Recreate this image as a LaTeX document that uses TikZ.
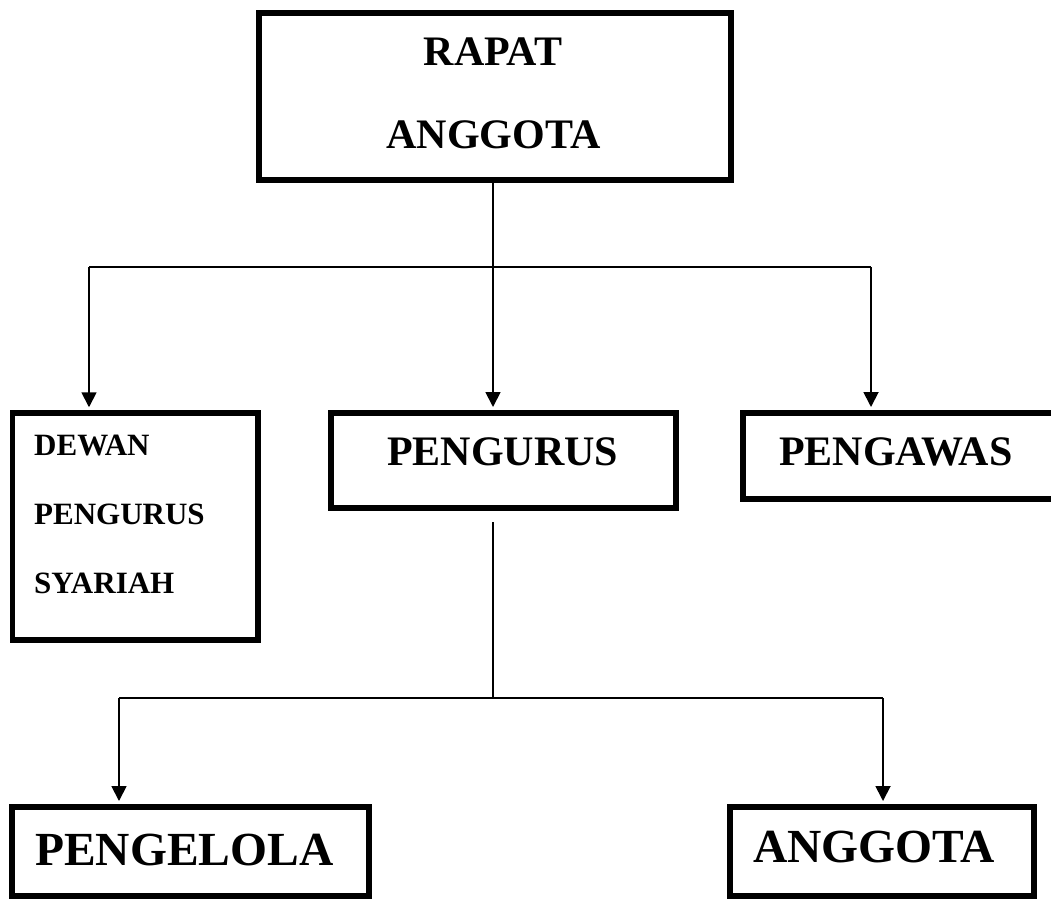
\documentclass[tikz,border=0pt]{standalone}
\usepackage{fontspec}
\setmainfont{Liberation Serif}
\usetikzlibrary{arrows.meta}
\begin{document}
\begin{tikzpicture}[x=1pt,y=-1pt,
  orgbox/.style={draw=black, line width=6pt, rectangle, inner sep=0pt, fill=none},
  lbl/.style={inner sep=0pt, font=\bfseries},
  conn/.style={draw=black, line width=1.8pt},
  arr/.style={conn, -{Triangle[length=15pt,width=15pt]}, shorten >=3pt}
]
\useasboundingbox (0,0) rectangle (1051,900);
\clip (0,0) rectangle (1051,900);
\fill[white] (0,0) rectangle (1051,900);

% boxes
\node[orgbox, minimum width=472pt, minimum height=167pt] (rapat) at (495,96.5) {};
\node[orgbox, line width=5.5pt, minimum width=245.5pt, minimum height=227pt] (dewan) at (135.25,526.5) {};
\node[orgbox, minimum width=345pt, minimum height=95pt] (pengurus) at (503.5,460.5) {};
\node[orgbox, minimum width=322pt, minimum height=86pt] (pengawas) at (904,456) {};
\node[orgbox, minimum width=357pt, minimum height=89pt] (pengelola) at (190.5,851.5) {};
\node[orgbox, minimum width=304pt, minimum height=89pt] (anggota) at (882,851.5) {};

% labels
\node[lbl, anchor=base, font=\bfseries\fontsize{42}{50}\selectfont] (t-rapat1) at (493,65) {RAPAT};
\node[lbl, anchor=base, font=\bfseries\fontsize{42}{50}\selectfont] (t-rapat2) at (493.5,148) {ANGGOTA};
\node[lbl, anchor=base west, font=\bfseries\fontsize{31}{36}\selectfont] (t-dewan1) at (34,455) {DEWAN};
\node[lbl, anchor=base west, font=\bfseries\fontsize{31}{36}\selectfont] (t-dewan2) at (34,524) {PENGURUS};
\node[lbl, anchor=base west, font=\bfseries\fontsize{31}{36}\selectfont] (t-dewan3) at (34,593) {SYARIAH};
\node[lbl, anchor=base west, font=\bfseries\fontsize{42}{50}\selectfont] (t-pengurus) at (387,465) {PENGURUS};
\node[lbl, anchor=base west, font=\bfseries\fontsize{42}{50}\selectfont] (t-pengawas) at (779,465) {PENGAWAS};
\node[lbl, anchor=base west, font=\bfseries\fontsize{47.5}{56}\selectfont] (t-pengelola) at (35,865) {PENGELOLA};
\node[lbl, anchor=base west, font=\bfseries\fontsize{47.5}{56}\selectfont] (t-anggota) at (753,862) {ANGGOTA};

% upper bus
\coordinate (bL) at (89,267);
\coordinate (bM) at (493,267);
\coordinate (bR) at (871,267);
\draw[conn] (rapat.south -| bM) -- (bM);
\draw[conn] (bL) -- (bR);
\draw[arr] (bL) -- (bL |- dewan.north);
\draw[arr] (bM) -- (bM |- pengurus.north);
\draw[arr] (bR) -- (bR |- pengawas.north);

% lower bus
\coordinate (cL) at (119,698);
\coordinate (cM) at (493,698);
\coordinate (cR) at (883,698);
\draw[conn, shorten <=11pt] (pengurus.south -| cM) -- (cM);
\draw[conn] (cL) -- (cR);
\draw[arr] (cL) -- (cL |- pengelola.north);
\draw[arr] (cR) -- (cR |- anggota.north);
\end{tikzpicture}
\end{document}
